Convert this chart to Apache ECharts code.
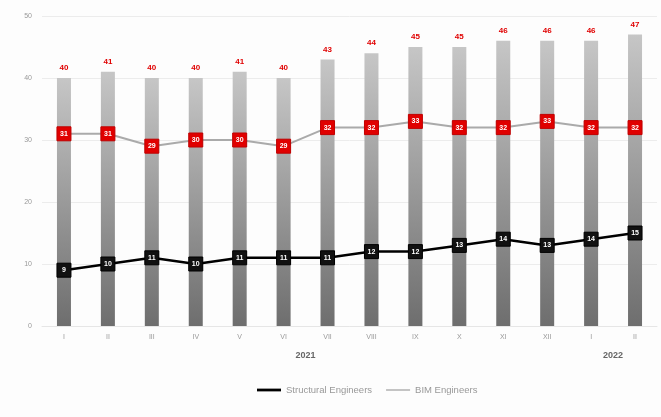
<!DOCTYPE html>
<html><head><meta charset="utf-8">
<script src="https://cdn.jsdelivr.net/npm/echarts@6/dist/echarts.min.js"></script>
<style>html,body{margin:0;padding:0;background:#fdfdfd;}#c{width:661px;height:417px;}</style>
</head><body><div id="c"></div>
<script>
var categories = ['I','II','III','IV','V','VI','VII','VIII','IX','X','XI','XII','I','II'];
var totals = [40,41,40,40,41,40,43,44,45,45,46,46,46,47];
var bimEngineers = [31,31,29,30,30,29,32,32,33,32,32,33,32,32];
var structuralEngineers = [9,10,11,10,11,11,11,12,12,13,14,13,14,15];
var years = [{label:'2021', from:0, to:11},{label:'2022', from:12, to:13}];
var yTicks = {min:0, max:50, interval:10};

var chart = echarts.init(document.getElementById('c'));
var font = 'Liberation Sans, Arial, sans-serif';
chart.setOption({
  backgroundColor:'#fdfdfd',
  animation:false,
  grid:{left:42, right:4, top:16, bottom:91},
  legend:{
    bottom:17, left:252, itemGap:14, itemWidth:24, itemHeight:3,
    textStyle:{color:'#999', fontSize:9.5, fontFamily:font},
    data:[
      {name:'Structural Engineers', icon:'path://M0,0L26,0L26,3L0,3Z', itemStyle:{color:'#000', borderWidth:0}},
      {name:'BIM Engineers', icon:'path://M0,0.75L26,0.75L26,2.25L0,2.25Z', itemStyle:{color:'#aaa', borderWidth:0}}
    ]
  },
  xAxis:{
    type:'category', data:categories,
    axisLine:{lineStyle:{color:'#e6e6e6'}}, axisTick:{show:false},
    axisLabel:{color:'#999', fontSize:7, fontFamily:font, margin:8}
  },
  yAxis:{
    type:'value', min:yTicks.min, max:yTicks.max, interval:yTicks.interval,
    axisLine:{show:false}, axisTick:{show:false},
    splitLine:{lineStyle:{color:'#ececec'}},
    axisLabel:{color:'#999', fontSize:7, fontFamily:font, margin:10}
  },
  series:[
    {
      name:'Total', type:'bar', data:totals, barWidth:14, z:1,
      itemStyle:{color:new echarts.graphic.LinearGradient(0,0,0,1,[
        {offset:0,color:'#c6c6c6'},{offset:1,color:'#6e6e6e'}])},
      label:{show:true, position:'top', distance:6, color:'#e00000', fontSize:8, fontWeight:'bold', fontFamily:font}
    },
    {
      name:'BIM Engineers', type:'line', data:bimEngineers, z:3,
      lineStyle:{color:'#aaa', width:2},
      symbol:'rect', symbolSize:14, itemStyle:{color:'#e00000', borderColor:'#c00000', borderWidth:1},
      label:{show:true, position:'inside', color:'#fff', fontSize:7, fontWeight:'bold', fontFamily:font}
    },
    {
      name:'Structural Engineers', type:'line', data:structuralEngineers, z:4,
      lineStyle:{color:'#000', width:2.5},
      symbol:'rect', symbolSize:14, itemStyle:{color:'#111', borderColor:'#000', borderWidth:1},
      label:{show:true, position:'inside', color:'#fff', fontSize:7, fontWeight:'bold', fontFamily:font}
    }
  ]
});
var g = [];
years.forEach(function(y){
  var a = chart.convertToPixel({xAxisIndex:0}, y.from);
  var b = chart.convertToPixel({xAxisIndex:0}, y.to);
  var base = chart.convertToPixel({yAxisIndex:0}, yTicks.min);
  g.push({type:'text', x:(a+b)/2, y:base+30, style:{text:y.label, fill:'#666', font:'bold 9px '+font, textAlign:'center', textVerticalAlign:'middle'}});
});
chart.setOption({graphic:g});
</script></body></html>
